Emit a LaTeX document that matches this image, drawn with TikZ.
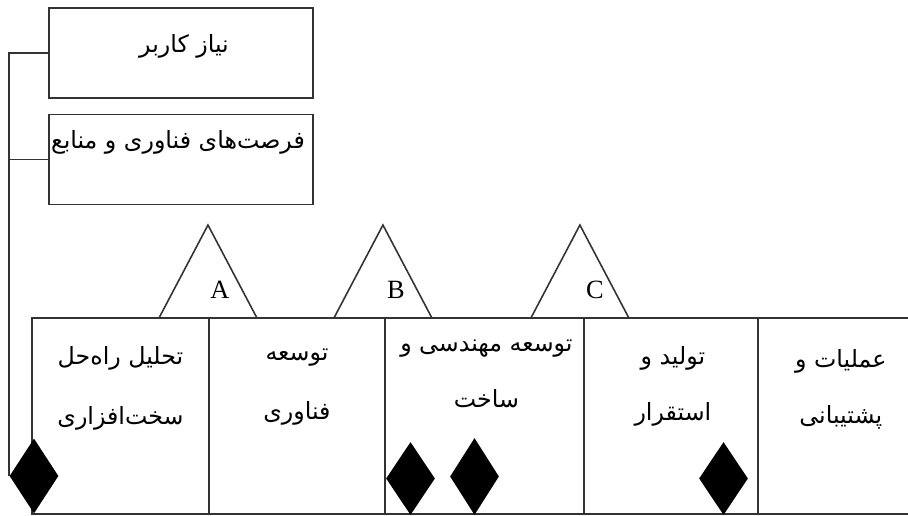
\documentclass[tikz,border=0pt]{standalone}
\usepackage{fontspec}
\setmainfont{Liberation Serif}
\newfontfamily\pfont[Script=Arabic]{DejaVu Sans}
\TeXXeTstate=1
\usetikzlibrary{positioning,calc,shapes.geometric}
\tikzset{
  box/.style   ={draw=black!80, line width=0.9pt, outer sep=0pt, inner sep=0pt},
  topbox/.style={box, minimum width=52.8mm, minimum height=18mm},
  col/.style   ={box, minimum height=39.2mm},
  ptxt/.style  ={font=\pfont\fontsize{13.5}{32}\selectfont, align=center, inner sep=0pt},
  wide/.style  ={font=\pfont\fontsize{13.5}{34}\selectfont},
  tri/.style   ={draw=black!80, line width=0.9pt},
  lbl/.style   ={font=\fontsize{15}{15}\selectfont, inner sep=0pt},
  dmd/.style   ={diamond, fill=black, inner sep=0pt, minimum width=9.8mm, minimum height=15mm},
  link/.style  ={draw=black!80, line width=0.9pt}
}

\begin{document}
\begin{tikzpicture}[x=0.02cm, y=0.02cm]
  \useasboundingbox (0,0) rectangle (908,516);

  % inputs on top
  \node[topbox] (need) at (181,463) {};
  \node[topbox] (tech) at (181,356.5) {};
  \node[ptxt] (needtxt) at ($(need.north)+(3,-38)$) {\beginR نیاز کاربر\endR};
  \node[ptxt] (techtxt) at ($(tech.north)+(-3,-28)$) {\beginR فرصت‌های فناوری و منابع\endR};

  % life-cycle stages
  \node[col, minimum width=35.4mm, anchor=south west] (col1) at (32,2) {};
  \node[col, minimum width=35.2mm, right=0pt of col1] (col2) {};
  \node[col, minimum width=39.8mm, right=0pt of col2] (col3) {};
  \node[col, minimum width=34.8mm, right=0pt of col3] (col4) {};
  \node[col, minimum width=30.8mm, right=0pt of col4] (col5) {};

  \node[ptxt, wide] (t1) at ($(col1.north)+(0,-70)$) {\beginR تحلیل راه‌حل\endR\\\beginR سخت‌افزاری\endR};
  \node[ptxt, wide] (t2) at ($(col2.north)+(0,-69)$) {\beginR توسعه\endR\\\beginR فناوری\endR};
  \node[ptxt] (t3) at ($(col3.north)+(2,-56)$) {\beginR توسعه مهندسی و\endR\\\beginR ساخت\endR};
  \node[ptxt] (t4) at ($(col4.north)+(2,-68)$) {\beginR تولید و\endR\\\beginR استقرار\endR};
  \node[ptxt] (t5) at ($(col5.north)+(6,-71)$) {\beginR عملیات و\endR\\\beginR پشتیبانی\endR};

  % milestones
  \foreach \c/\l/\s in {col1/A/-1,col2/B/-2,col3/C/-4}{
    \draw[tri] ($(\c.north east)+(\s-49,0)$) -- ++(49,93) -- ++(49,-93);
    \node[lbl] (ms\l) at ($(\c.north east)+(11,28)$) {\l};
  }

  % reviews
  \node[dmd] (d1) at (34,40) {};
  \node[dmd, minimum height=14.6mm] (d2) at (410.5,37.5) {};
  \node[dmd, minimum height=15.4mm] (d3) at (474.5,39.5) {};
  \node[dmd, minimum height=14.6mm] (d4) at (723.5,37.5) {};

  \draw[link] (need.west) -| (d1.west);
  \draw[link] (tech.west) -- (tech.west -| d1.west);
\end{tikzpicture}
\end{document}
